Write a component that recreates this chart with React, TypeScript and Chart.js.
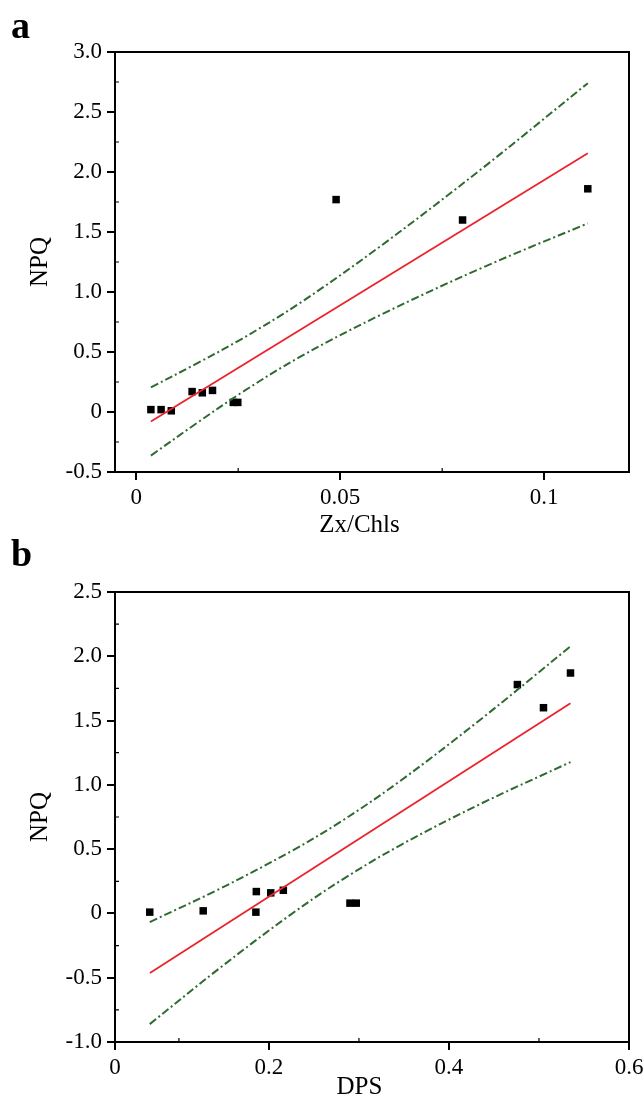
import React, { useEffect, useRef } from "react";
import { Chart, registerables } from "chart.js";

Chart.register(...registerables);

// ---------- Panel a data ----------
const zxChls = [0.0036, 0.0061, 0.0086, 0.0137, 0.0162, 0.0187, 0.0238, 0.0249, 0.049, 0.08, 0.1107];
const npqA = [0.02, 0.02, 0.01, 0.17, 0.16, 0.18, 0.08, 0.08, 1.77, 1.6, 1.86];
const fitAx = [0.0036, 0.1107];
const fitAy = [-0.079, 2.156];
const bandAx = [0.0036, 0.015, 0.0255, 0.04, 0.06, 0.085, 0.1107];
const bandAUpper = [0.205, 0.407, 0.602, 0.905, 1.385, 2.035, 2.74];
const bandALower = [-0.363, -0.089, 0.154, 0.457, 0.811, 1.205, 1.572];
const zxTicks = [0, 0.05, 0.1];
const zxTickLabels = ["0", "0.05", "0.1"];
const zxMinor = [0.025, 0.075];
const npqTicksA = [-0.5, 0, 0.5, 1.0, 1.5, 2.0, 2.5, 3.0];
const npqMinorA = [-0.25, 0.25, 0.75, 1.25, 1.75, 2.25, 2.75];

// ---------- Panel b data ----------
const dps = [0.0676, 0.127, 0.186, 0.1855, 0.202, 0.216, 0.29, 0.297, 0.476, 0.505, 0.535];
const npqB = [0.01, 0.02, 0.17, 0.01, 0.16, 0.18, 0.08, 0.08, 1.78, 1.6, 1.87];
const fitBx = [0.0678, 0.535];
const fitBy = [-0.463, 1.635];
const bandBx = [0.0676, 0.1455, 0.2234, 0.2801, 0.3458, 0.4348, 0.535];
const bandBUpper = [-0.067, 0.192, 0.479, 0.715, 1.03, 1.507, 2.077];
const bandBLower = [-0.861, -0.424, -0.013, 0.257, 0.53, 0.851, 1.177];
const dpsAxisMin = 0.029;
const dpsTicks = [dpsAxisMin, 0.2, 0.4, 0.6];
const dpsTickLabels = ["0", "0.2", "0.4", "0.6"];
const dpsMinor = [0.1, 0.3, 0.5];
const npqTicksB = [-1.0, -0.5, 0, 0.5, 1.0, 1.5, 2.0, 2.5];
const npqMinorB = [-0.75, -0.25, 0.25, 0.75, 1.25, 1.75, 2.25];

const FONT = "'Liberation Serif', 'Times New Roman', serif";
const TICK_SIZE = 23;
const TITLE_SIZE = 25;
const RED = "#ea232c";
const GREEN = "#2f6a31";

const pts = (xs: number[], ys: number[]) => xs.map((x, i) => ({ x, y: ys[i] }));

const framePlugin = {
  id: "frame",
  afterDraw(chart: any) {
    const { ctx, chartArea } = chart;
    const { left, top, right, bottom } = chartArea;
    ctx.save();
    ctx.strokeStyle = "#000";
    ctx.lineWidth = 2;
    ctx.strokeRect(left, top, right - left, bottom - top);
    // minor ticks, pointing inward
    const mx: number[] = chart.options.plugins.frame.minorX || [];
    const my: number[] = chart.options.plugins.frame.minorY || [];
    ctx.lineWidth = 1.2;
    ctx.beginPath();
    mx.forEach((v) => {
      const px = chart.scales.x.getPixelForValue(v);
      ctx.moveTo(px, bottom);
      ctx.lineTo(px, bottom - 4);
    });
    my.forEach((v) => {
      const py = chart.scales.y.getPixelForValue(v);
      ctx.moveTo(left, py);
      ctx.lineTo(left + 4, py);
    });
    ctx.stroke();
    ctx.restore();
  },
};

type PanelSpec = {
  height: number;
  padTop: number;
  padRight: number;
  yWidth: number;
  xHeight: number;
  xMin: number;
  xMax: number;
  yMin: number;
  yMax: number;
  xTicks: number[];
  xTickLabels: string[];
  xMinor: number[];
  yTicks: number[];
  yMinor: number[];
  xTitle: string;
  xTitlePadBottom: number;
  xs: number[];
  ys: number[];
  fitX: number[];
  fitY: number[];
  bandX: number[];
  bandU: number[];
  bandL: number[];
};

function fmtY(v: number) {
  return v === 0 ? "0" : v.toFixed(1);
}

function makeConfig(p: PanelSpec): any {
  const bandStyle = {
    showLine: true,
    pointRadius: 0,
    borderColor: GREEN,
    borderWidth: 2,
    borderDash: [8, 3, 2, 3],
    tension: 0.35,
    fill: false,
  };
  return {
    type: "scatter",
    data: {
      datasets: [
        { label: "upper", data: pts(p.bandX, p.bandU), ...bandStyle },
        { label: "lower", data: pts(p.bandX, p.bandL), ...bandStyle },
        {
          label: "fit",
          data: pts(p.fitX, p.fitY),
          showLine: true,
          pointRadius: 0,
          borderColor: RED,
          borderWidth: 1.8,
        },
        {
          label: "data",
          data: pts(p.xs, p.ys),
          pointStyle: "rect",
          pointRadius: 5.3,
          pointBackgroundColor: "#000",
          pointBorderWidth: 0,
          showLine: false,
        },
      ],
    },
    options: {
      responsive: false,
      animation: false,
      devicePixelRatio: 1,
      layout: { padding: { top: p.padTop, right: p.padRight, left: 0, bottom: 0 } },
      plugins: {
        legend: { display: false },
        tooltip: { enabled: false },
        title: { display: false },
        frame: { minorX: p.xMinor, minorY: p.yMinor },
      },
      scales: {
        x: {
          type: "linear",
          min: p.xMin,
          max: p.xMax,
          afterBuildTicks: (s: any) => {
            s.ticks = p.xTicks.map((v) => ({ value: v }));
          },
          afterFit: (s: any) => {
            s.height = p.xHeight;
            s.paddingLeft = 0;
            s.paddingRight = 0;
          },
          ticks: {
            color: "#000",
            font: { family: FONT, size: TICK_SIZE },
            padding: 4,
            maxRotation: 0,
            autoSkip: false,
            callback: (_v: number, i: number) => p.xTickLabels[i],
          },
          grid: {
            display: true,
            drawOnChartArea: false,
            drawTicks: true,
            tickLength: 8,
            color: "#000",
            lineWidth: 2,
          },
          border: { display: true, color: "#000", width: 2 },
          title: {
            display: true,
            text: p.xTitle + "    ",
            color: "#000",
            font: { family: FONT, size: TITLE_SIZE },
            padding: { top: 0, bottom: p.xTitlePadBottom },
          },
        },
        y: {
          type: "linear",
          min: p.yMin,
          max: p.yMax,
          afterBuildTicks: (s: any) => {
            s.ticks = p.yTicks.map((v) => ({ value: v }));
          },
          afterFit: (s: any) => {
            s.width = p.yWidth;
            s.paddingTop = 0;
            s.paddingBottom = 0;
          },
          ticks: {
            color: "#000",
            font: { family: FONT, size: TICK_SIZE },
            padding: 5,
            autoSkip: false,
            callback: (v: number) => fmtY(v),
          },
          grid: {
            display: true,
            drawOnChartArea: false,
            drawTicks: true,
            tickLength: 8,
            color: "#000",
            lineWidth: 2,
          },
          border: { display: true, color: "#000", width: 2 },
          title: {
            display: true,
            text: "NPQ",
            color: "#000",
            font: { family: FONT, size: TITLE_SIZE },
            padding: { top: 25, bottom: 0 },
          },
        },
      },
    },
    plugins: [framePlugin],
  };
}

function Panel({ spec, top, letter, letterTop }: { spec: PanelSpec; top: number; letter: string; letterTop: number }) {
  const ref = useRef<HTMLCanvasElement | null>(null);
  useEffect(() => {
    if (!ref.current) return;
    const chart = new Chart(ref.current, makeConfig(spec));
    return () => chart.destroy();
  }, [spec]);
  return (
    <>
      <canvas
        ref={ref}
        width={644}
        height={spec.height}
        style={{ position: "absolute", left: 0, top, width: 644, height: spec.height }}
      />
      <div
        style={{
          position: "absolute",
          left: 11,
          top: letterTop,
          fontFamily: FONT,
          fontWeight: "bold",
          fontSize: 38,
          lineHeight: "38px",
          color: "#000",
        }}
      >
        {letter}
      </div>
    </>
  );
}

const specA: PanelSpec = {
  height: 545,
  padTop: 52,
  padRight: 15,
  yWidth: 115,
  xHeight: 73,
  xMin: -0.0052,
  xMax: 0.1208,
  yMin: -0.5,
  yMax: 3.0,
  xTicks: zxTicks,
  xTickLabels: zxTickLabels,
  xMinor: zxMinor,
  yTicks: npqTicksA,
  yMinor: npqMinorA,
  xTitle: "Zx/Chls",
  xTitlePadBottom: 5,
  xs: zxChls,
  ys: npqA,
  fitX: fitAx,
  fitY: fitAy,
  bandX: bandAx,
  bandU: bandAUpper,
  bandL: bandALower,
};

const specB: PanelSpec = {
  height: 558,
  padTop: 47,
  padRight: 15,
  yWidth: 115,
  xHeight: 61,
  xMin: dpsAxisMin,
  xMax: 0.6,
  yMin: -1.0,
  yMax: 2.5,
  xTicks: dpsTicks,
  xTickLabels: dpsTickLabels,
  xMinor: dpsMinor,
  yTicks: npqTicksB,
  yMinor: npqMinorB,
  xTitle: "DPS",
  xTitlePadBottom: 1,
  xs: dps,
  ys: npqB,
  fitX: fitBx,
  fitY: fitBy,
  bandX: bandBx,
  bandU: bandBUpper,
  bandL: bandBLower,
};

export default function App() {
  return (
    <div style={{ position: "absolute", left: 0, top: 0, width: 644, height: 1103, background: "#fff", overflow: "hidden" }}>
      <Panel spec={specA} top={0} letter="a" letterTop={6} />
      <Panel spec={specB} top={545} letter="b" letterTop={534} />
    </div>
  );
}
